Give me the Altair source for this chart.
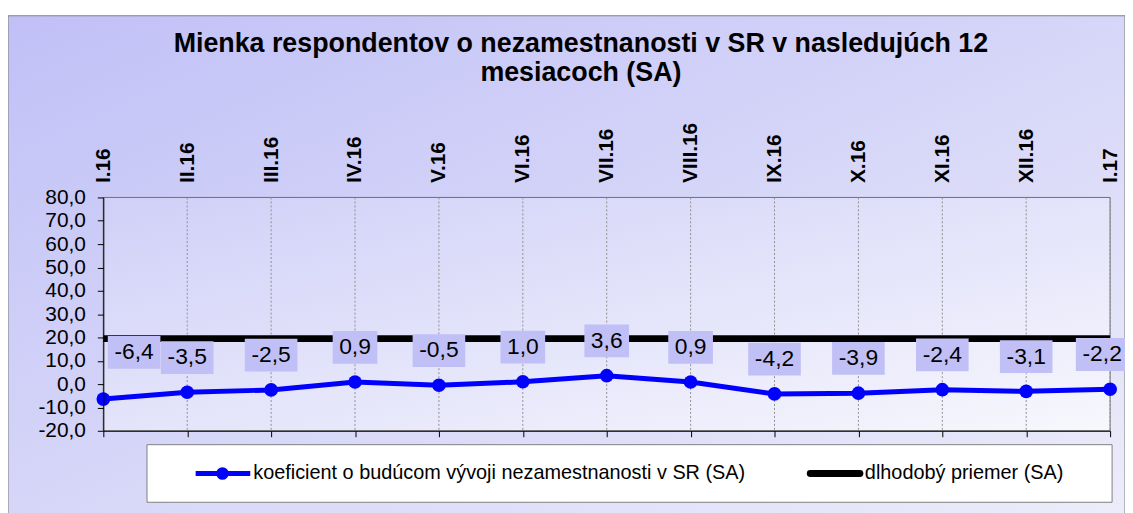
import altair as alt
import pandas as pd

# ---------------- data ----------------
MONTHS = ["I.16", "II.16", "III.16", "IV.16", "V.16", "VI.16", "VII.16",
          "VIII.16", "IX.16", "X.16", "XI.16", "XII.16", "I.17"]
COEF = [-6.4, -3.5, -2.5, 0.9, -0.5, 1.0, 3.6, 0.9, -4.2, -3.9, -2.4, -3.1, -2.2]
LONG_TERM_AVG = [19.5, 19.5, 19.5, 19.5, 19.5, 19.5, 19.5,
                 19.5, 19.5, 19.5, 19.5, 19.5, 19.5]
Y_TICKS = [-20, -10, 0, 10, 20, 30, 40, 50, 60, 70, 80]
SERIES_COEF = "koeficient o budúcom vývoji nezamestnanosti v SR (SA)"
SERIES_AVG = "dlhodobý priemer (SA)"
TITLE_LINES = ["Mienka respondentov o nezamestnanosti v SR v nasledujúch 12",
               "mesiacoch (SA)"]

# ---------------- styling ----------------
W, H = 1014, 235
FONT = "Liberation Sans"
BLUE = "#0000ff"
BOX = "#c0c0f6"

df = pd.DataFrame({"month": MONTHS, "coef": COEF, "avg": LONG_TERM_AVG})
df["label"] = [f"{v:.1f}".replace(".", ",") for v in COEF]
one = pd.DataFrame({"k": [0]})

xscale = alt.Scale(type="point", padding=0, domain=MONTHS)
yscale = alt.Scale(domain=[-20, 80], nice=False, zero=False)

X = alt.X("month:N", scale=xscale, axis=None)
Y = alt.Y("coef:Q", scale=yscale, axis=None)

base = alt.Chart(df)
const = alt.Chart(one)

# outer chart background
outer_bg = const.mark_rect(
    fill={"gradient": "linear", "x1": 0, "y1": 0, "x2": 1, "y2": 1,
          "stops": [{"offset": 0, "color": "#c0c0f7"},
                    {"offset": 1, "color": "#ececfa"}]},
    stroke="#808080", strokeWidth=1,
).encode(x=alt.value(-96), x2=alt.value(1029), y=alt.value(-183), y2=alt.value(320))

# plot area background
plot_bg = const.mark_rect(
    fill={"gradient": "linear", "x1": 0, "y1": 0, "x2": 1, "y2": 1,
          "stops": [{"offset": 0, "color": "#d0d0f8"},
                    {"offset": 1, "color": "#f7f7fd"}]},
    stroke="#707070", strokeWidth=1,
).encode(x=alt.value(0), x2=alt.value(W), y=alt.value(0), y2=alt.value(H))

# vertical dashed grid + top axis labels
grid = base.mark_rule(color="#909090", strokeDash=[2, 2], strokeWidth=1).encode(
    x=alt.X("month:N", scale=xscale, axis=alt.Axis(
        orient="top", title=None, labelAngle=-90, labelAlign="left",
        labelBaseline="middle", labelFont=FONT, labelFontWeight="bold",
        labelFontSize=21, labelColor="black", ticks=False, domain=False,
        grid=False, labelPadding=15, labelOverlap=False, zindex=1)),
    y=alt.value(0), y2=alt.value(H),
)

avg_line = base.mark_line(color="black", strokeWidth=7, strokeCap="butt").encode(
    x=X, y=alt.Y("avg:Q", scale=yscale, axis=None)
)

coef_line = base.mark_line(color=BLUE, strokeWidth=5).encode(
    x=alt.X("month:N", scale=xscale, axis=alt.Axis(
        orient="bottom", title=None, labels=False, ticks=True, tickSize=6,
        tickColor="black", domainColor="black", grid=False, zindex=1)),
    y=alt.Y("coef:Q", scale=yscale, axis=alt.Axis(
        values=Y_TICKS, labelExpr="datum.value + ',0'", title=None, grid=False,
        tickSize=6, tickColor="black", domainColor="black", labelFont=FONT,
        labelFontSize=21, labelColor="black", labelPadding=12,
        labelOverlap=False, zindex=1)),
)

coef_pts = base.mark_circle(color=BLUE, size=190, opacity=1).encode(x=X, y=Y)


def label_layers(flt, dx, dy=-35):
    layers = []
    for cond, half in (("datum.coef < 0", 26.5), ("datum.coef >= 0", 22.5)):
        layers.append(
            base.transform_filter(f"({flt}) && {cond}").mark_rect(
                fill=BOX, xOffset=dx - half, x2Offset=dx + half,
                yOffset=dy - 16.5, y2Offset=dy + 16.5,
            ).encode(x=X, x2="month", y=Y, y2="coef")
        )
    layers.append(
        base.transform_filter(flt).mark_text(
            dx=dx, dy=dy, font=FONT, fontSize=23, color="black",
            align="center", baseline="middle",
        ).encode(x=X, y=Y, text="label:N")
    )
    return layers


first, last = MONTHS[0], MONTHS[-1]
labels = (
    label_layers(f"datum.month != '{first}' && datum.month != '{last}'", 0)
    + label_layers(f"datum.month == '{first}'", 31, -47)
    + label_layers(f"datum.month == '{last}'", -8)
)

# title
title_layers = [
    const.mark_text(text=TITLE_LINES[0], font=FONT, fontSize=27, fontWeight="bold",
                    color="black", align="center", baseline="alphabetic")
    .encode(x=alt.value(481), y=alt.value(-146)),
    const.mark_text(text=TITLE_LINES[1], font=FONT, fontSize=27, fontWeight="bold",
                    color="black", align="center", baseline="alphabetic")
    .encode(x=alt.value(481), y=alt.value(-117)),
]

# legend
LEG_Y = 278
legend_layers = [
    const.mark_rect(fill="white", stroke="#808080", strokeWidth=1).encode(
        x=alt.value(44), x2=alt.value(1016), y=alt.value(249), y2=alt.value(307)),
    const.mark_rule(color=BLUE, strokeWidth=5).encode(
        x=alt.value(93), x2=alt.value(148), y=alt.value(LEG_Y)),
    const.mark_circle(color=BLUE, size=160, opacity=1).encode(
        x=alt.value(120), y=alt.value(LEG_Y)),
    const.mark_text(text=SERIES_COEF, font=FONT, fontSize=20, color="black",
                    align="left", baseline="middle").encode(
        x=alt.value(151), y=alt.value(LEG_Y)),
    const.mark_rule(color="black", strokeWidth=7, strokeCap="round").encode(
        x=alt.value(712), x2=alt.value(762), y=alt.value(LEG_Y)),
    const.mark_text(text=SERIES_AVG, font=FONT, fontSize=20, color="black",
                    align="left", baseline="middle").encode(
        x=alt.value(767), y=alt.value(LEG_Y)),
]

chart = alt.layer(
    outer_bg, plot_bg, grid, avg_line, coef_line, coef_pts,
    *labels, *title_layers, *legend_layers,
).resolve_axis(x="independent", y="independent").properties(
    width=W, height=H,
    autosize=alt.AutoSizeParams(type="none"),
    padding={"left": 96, "top": 189, "right": 15, "bottom": 81},
).configure_view(stroke="transparent").configure(background="white")

chart.save("out.html", embed_options={"renderer": "svg", "actions": False})
